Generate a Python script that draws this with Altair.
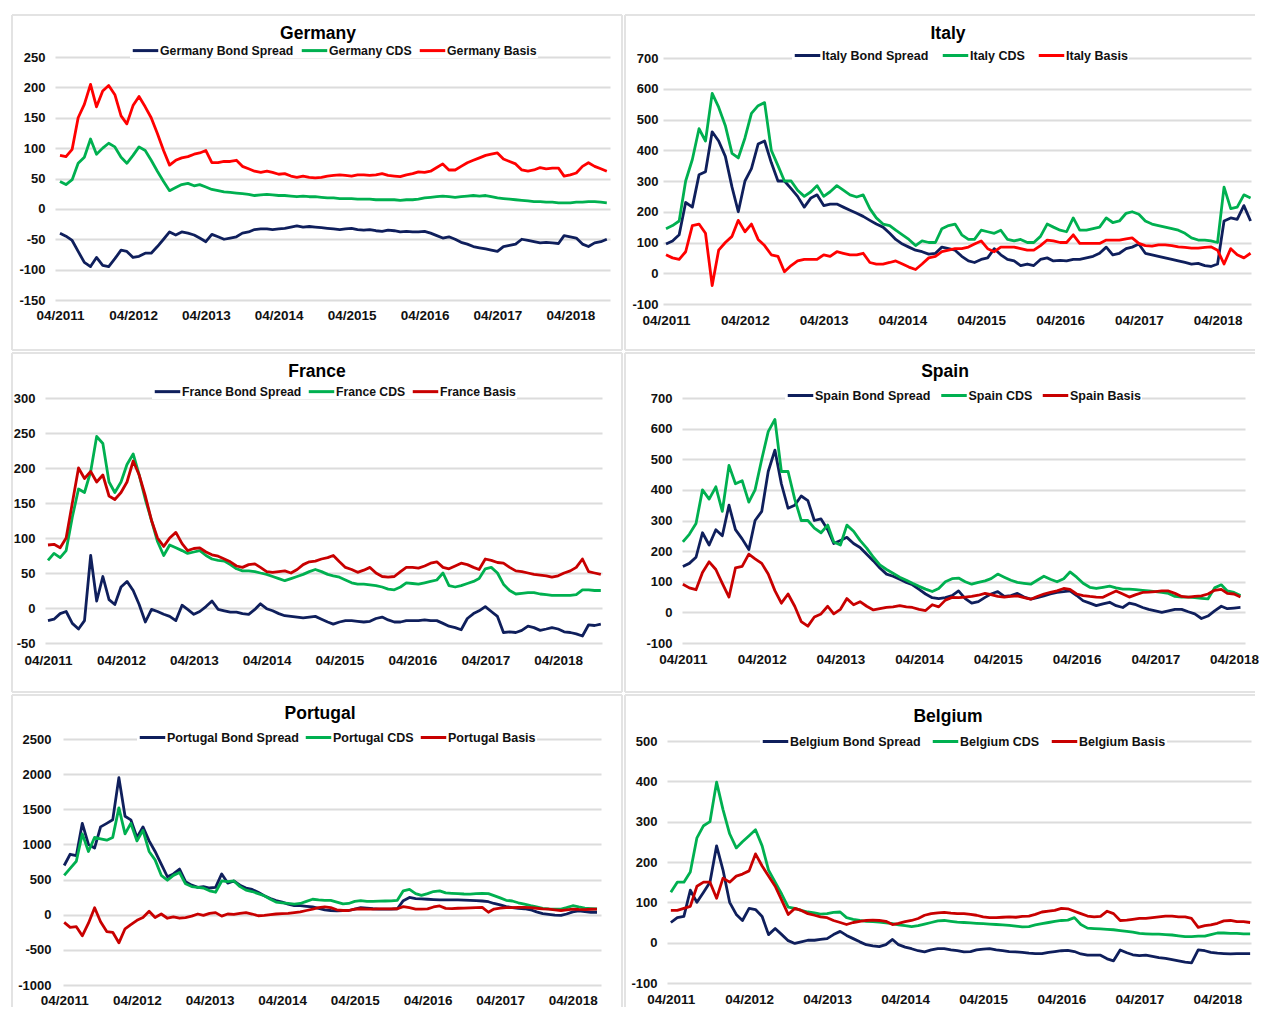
import altair as alt
import pandas as pd

NAVY = "#0f1f5c"
GREEN = "#00b050"
RED_BRIGHT = "#ff0000"
RED_DARK = "#c80000"
GRID = "#dcdcdc"
BORDER = "#e3e3e3"
FONT = "Liberation Sans"

# ---------------- data (monthly readings, first value = 04/2011) ----------------
ger_bond = [-40, -45, -52, -70, -88, -95, -80, -93, -95, -82,
            -68, -70, -80, -78, -73, -73, -62, -50, -38, -43,
            -38, -40, -43, -48, -54, -42, -46, -50, -48, -46,
            -40, -38, -34, -33, -33, -34, -33, -32, -30, -28,
            -30, -29, -30, -31, -32, -33, -34, -33, -32, -34,
            -35, -34, -36, -37, -35, -36, -38, -37, -38, -38,
            -37, -40, -44, -48, -46, -50, -55, -58, -62, -64,
            -66, -68, -70, -62, -60, -58, -50, -52, -54, -56,
            -55, -56, -57, -44, -46, -48, -58, -62, -56, -54, -50]
ger_cds = [45, 40, 48, 75, 85, 115, 90, 100, 108, 102,
           85, 75, 88, 102, 96, 80, 62, 45, 30, 35,
           40, 42, 38, 40, 36, 32, 30, 28, 27, 26,
           25, 24, 22, 23, 24, 23, 22, 22, 21, 20,
           21, 20, 20, 19, 18, 18, 17, 17, 17, 16,
           16, 16, 15, 15, 15, 15, 14, 15, 15, 16,
           18, 19, 20, 21, 20, 19, 20, 21, 22, 21,
           22, 20, 18, 17, 16, 15, 14, 13, 12, 12,
           11, 11, 10, 10, 10, 11, 11, 12, 12, 11, 10]
ger_basis = [88, 86, 98, 150, 172, 205, 168, 194, 203, 188,
             153, 140, 170, 185, 168, 150, 124, 96, 72, 80,
             84, 86, 90, 92, 96, 76, 76, 78, 78, 80,
             70, 66, 62, 60, 62, 60, 57, 58, 54, 52,
             54, 52, 51, 52, 54, 55, 56, 55, 54, 56,
             56, 55, 56, 58, 55, 54, 53, 56, 58, 61,
             60, 62, 68, 74, 64, 64, 70, 76, 80, 84,
             88, 90, 92, 82, 78, 74, 64, 62, 64, 68,
             66, 67, 67, 54, 56, 59, 70, 76, 70, 66, 62]

ita_bond = [95, 105, 125, 230, 215, 320, 330, 460, 430, 380,
            280, 200, 300, 340, 420, 430, 360, 300, 300, 275,
            250, 215, 245, 255, 220, 225, 225, 215, 205, 195,
            185, 172, 160, 150, 130, 110, 95, 85, 75, 70,
            62, 65, 85, 80, 75, 55, 40, 35, 45, 50,
            80, 60, 45, 40, 25, 30, 25, 45, 50, 40,
            42, 40, 45, 45, 50, 55, 65, 85, 60, 65,
            80, 85, 95, 65, 60, 55, 50, 45, 40, 35,
            30, 32, 25, 22, 30, 170, 180, 175, 220, 170]
ita_cds = [145, 155, 170, 300, 370, 470, 430, 585, 540, 480,
           390, 375, 440, 520, 545, 555, 400, 350, 300, 300,
           270, 250, 265, 285, 250, 265, 285, 270, 255, 248,
           255, 210, 180, 160, 155, 140, 125, 110, 90, 105,
           100, 100, 145, 155, 160, 125, 110, 110, 140, 135,
           130, 140, 110, 105, 110, 100, 100, 120, 160, 150,
           140, 135, 180, 140, 140, 145, 150, 180, 165, 170,
           195, 200, 192, 170, 160, 155, 150, 145, 140, 130,
           115, 108, 108, 105, 100, 280, 210, 215, 255, 245]
ita_basis = [60, 50, 45, 70, 155, 160, 130, -40, 75, 100,
             120, 172, 135, 160, 110, 90, 60, 55, 5, 25,
             40, 45, 45, 45, 60, 55, 70, 65, 60, 60,
             65, 35, 30, 30, 35, 40, 30, 20, 12, 30,
             50, 55, 70, 75, 80, 80, 85, 95, 105, 80,
             70, 85, 85, 85, 80, 75, 75, 90, 108, 105,
             100, 100, 125, 97, 97, 97, 97, 108, 108, 108,
             112, 115, 97, 90, 88, 92, 92, 90, 86, 84,
             82, 82, 84, 86, 75, 30, 80, 60, 50, 65]

fra_bond = [-18, -16, -8, -5, -22, -30, -18, 75, 10, 45,
            12, 5, 30, 38, 25, 5, -20, -2, -5, -9,
            -12, -18, 4, -2, -9, -5, 2, 10, -2, -4,
            -6, -6, -8, -9, -2, 6, -1, -4, -8, -11,
            -12, -13, -14, -13, -12, -16, -20, -23, -20, -18,
            -18, -19, -20, -19, -15, -13, -17, -20, -20, -18,
            -18, -18, -17, -18, -18, -22, -26, -28, -31, -15,
            -8, -4, 2, -5, -12, -35, -34, -35, -32, -26,
            -28, -32, -30, -28, -30, -34, -35, -37, -40, -24, -25, -23]
fra_cds = [68, 78, 72, 82, 130, 170, 165, 195, 245, 235,
           180, 165, 180, 205, 220, 190, 155, 125, 95, 75,
           90, 86, 82, 78, 80, 82, 75, 70, 68, 67,
           62, 56, 53, 53, 52, 50, 48, 45, 42, 39,
           42, 45, 48, 52, 55, 52, 48, 46, 44, 40,
           36, 34, 34, 33, 32, 30, 27, 26, 30, 36,
           35, 34, 36, 38, 40, 50, 32, 30, 32, 35,
           38, 42, 56, 58, 50, 34, 25, 20, 21, 22,
           22, 20, 19, 18, 18, 18, 18, 19, 26, 26, 25, 25]
fra_basis = [90, 91, 86, 100, 150, 200, 185, 195, 180, 190,
             160, 155, 165, 180, 210, 190, 160, 125, 100, 88,
             100, 108, 92, 82, 85, 86, 80, 76, 74, 70,
             66, 60, 58, 62, 63, 58, 52, 51, 52, 53,
             50, 55, 62, 66, 67, 70, 72, 75, 66, 58,
             55, 51, 54, 58, 50, 45, 44, 45, 52, 58,
             58, 57, 60, 64, 66, 58, 56, 60, 64, 62,
             58, 55, 70, 68, 65, 64, 58, 53, 52, 50,
             48, 47, 46, 44, 46, 50, 53, 58, 70, 52, 50, 48]

spa_bond = [150, 160, 180, 260, 220, 270, 250, 350, 270, 240,
            205, 300, 330, 460, 530, 420, 340, 350, 380, 365,
            300, 305, 270, 225, 235, 245, 225, 212, 190, 168,
            145, 125, 118, 108, 98, 90, 75, 60, 48, 45,
            48, 55, 70, 45, 30, 35, 49, 60, 68, 52,
            55, 62, 50, 43, 48, 54, 60, 65, 68, 70,
            55, 38, 30, 22, 28, 33, 22, 16, 30, 25,
            16, 10, 5, 0, 5, 10, 10, 2, -5, -20,
            -12, 5, 20, 12, 14, 16]
spa_cds = [230, 255, 290, 400, 370, 410, 330, 480, 420, 430,
           360, 400, 500, 590, 630, 460, 460, 370, 300, 300,
           275, 260, 285, 230, 220, 285, 265, 235, 210, 180,
           155, 140, 128, 115, 105, 95, 85, 76, 68, 78,
           100, 110, 112, 100, 92, 98, 103, 110, 125, 115,
           105, 98, 95, 92, 105, 118, 108, 100, 110, 132,
           115, 95, 82, 78, 82, 86, 80, 76, 76, 74,
           72, 70, 68, 65, 62, 52, 50, 50, 48, 46,
           44, 80, 90, 70, 65, 55]
spa_basis = [92, 80, 74, 130, 165, 140, 95, 50, 145, 150,
             190, 175, 160, 125, 71, 30, 60, 20, -30, -45,
             -15, -5, 20, -5, 10, 45, 25, 35, 20, 8,
             12, 16, 18, 22, 18, 16, 10, 6, 25, 18,
             40, 49, 48, 50, 52, 56, 62, 58, 52, 50,
             52, 54, 48, 43, 52, 60, 65, 70, 78, 75,
             60, 55, 52, 50, 49, 60, 70, 60, 50, 58,
             65, 66, 68, 70, 70, 62, 52, 50, 52, 54,
             60, 72, 75, 62, 60, 50]

por_bond = [700, 860, 840, 1300, 1000, 950, 1250, 1300, 1350, 1950,
            1400, 1350, 1100, 1250, 1050, 900, 720, 540, 580, 650,
            470, 420, 390, 400, 380, 390, 580, 450, 480, 420,
            380, 360, 320, 270, 230, 200, 180, 150, 130, 130,
            120, 110, 90, 70, 60, 55, 60, 60, 80, 100,
            95, 85, 80, 80, 80, 85, 200, 245, 230, 225,
            220, 215, 210, 210, 210, 210, 208, 205, 200, 195,
            185, 160, 140, 115, 100, 90, 85, 70, 40, 15,
            5, -5, -10, 10, 40, 55, 45, 35, 35]
por_cds = [560, 660, 760, 1150, 900, 1100, 1080, 1060, 1100, 1520,
           1150, 1300, 1050, 1200, 900, 780, 560, 490, 560, 600,
           440, 400, 390, 380, 340, 320, 480, 470, 480, 400,
           350, 330, 300, 270, 220, 180, 170, 160, 150, 160,
           190, 220, 210, 205, 205, 180, 155, 160, 190, 200,
           190, 190, 192, 195, 198, 205, 340, 360, 300, 275,
           300, 330, 340, 310, 305, 300, 295, 294, 300, 304,
           300, 272, 240, 205, 195, 170, 150, 128, 110, 90,
           82, 80, 80, 100, 128, 110, 95, 88, 82]
por_basis = [-110, -180, -170, -300, -120, 100, -100, -240, -250, -400,
             -200, -140, -80, -40, 50, -40, 10, -50, -30, -50,
             -40, -20, 10, -10, 20, 30, -20, 10, 5, 20,
             30, 10, -15, -10, 0, 10, 15, 20, 30, 40,
             60, 80, 100, 110, 100, 70, 60, 60, 80, 85,
             80, 80, 82, 82, 82, 85, 115, 100, 80, 80,
             82, 110, 125, 90, 88, 92, 95, 98, 100, 104,
             35, 80, 95, 100, 102, 104, 104, 100, 92, 84,
             80, 70, 60, 70, 80, 75, 72, 78, 80]

bel_bond = [50, 62, 65, 130, 100, 125, 150, 240, 180, 100,
            70, 55, 85, 82, 65, 20, 35, 20, 5, -2,
            2, 6, 6, 8, 10, 20, 28, 18, 10, 2,
            -5, -8, -10, -5, 8, -5, -11, -15, -20, -23,
            -18, -15, -15, -18, -20, -23, -22, -18, -16, -15,
            -18, -20, -22, -23, -24, -26, -27, -27, -24, -22,
            -20, -19, -22, -28, -31, -31, -31, -40, -45, -18,
            -25, -30, -32, -31, -34, -37, -39, -42, -45, -48,
            -50, -18, -20, -24, -26, -27, -28, -27, -27, -27]
bel_cds = [125, 150, 150, 175, 260, 290, 300, 398, 330, 270,
           235, 250, 265, 280, 240, 180, 150, 120, 88, 85,
           80, 76, 74, 71, 72, 75, 76, 62, 58, 55,
           53, 52, 51, 49, 47, 44, 42, 40, 42, 46,
           50, 54, 55, 53, 51, 50, 49, 48, 47, 46,
           45, 44, 43, 41, 39, 40, 44, 47, 50, 53,
           55, 56, 62, 45, 36, 35, 34, 33, 32, 30,
           28, 26, 23, 22, 21, 21, 20, 19, 17, 15,
           15, 16, 16, 20, 24, 24, 23, 23, 22, 22]
bel_basis = [80, 80, 85, 90, 140, 150, 150, 110, 160, 150,
             165, 170, 178, 220, 190, 165, 140, 105, 70, 85,
             80, 72, 68, 64, 62, 55, 50, 45, 50, 53,
             55, 56, 55, 53, 45, 48, 52, 55, 60, 68,
             72, 74, 75, 73, 72, 72, 70, 68, 64, 62,
             62, 63, 64, 63, 65, 66, 70, 76, 78, 80,
             85, 84, 78, 72, 66, 64, 65, 78, 72, 55,
             56, 58, 60, 60, 62, 64, 66, 66, 64, 64,
             60, 38, 42, 44, 48, 54, 55, 52, 52, 50]

TICK_YEARS = [2011, 2012, 2013, 2014, 2015, 2016, 2017, 2018]


def month_dates(n):
    out = []
    y, m = 2011, 4
    for _ in range(n):
        out.append(f"{y:04d}-{m:02d}-01T00:00:00")
        m += 1
        if m > 12:
            m = 1
            y += 1
    return out


def dt(y, m, d):
    return alt.DateTime(year=y, month=m, date=d)


ONE = pd.DataFrame({"k": [0]})


def hrule(x1, x2, y):
    return alt.Chart(ONE).mark_rule(color=BORDER, strokeWidth=2).encode(
        x=alt.value(x1), x2=alt.value(x2), y=alt.value(y))


def vrule(x, y1, y2):
    return alt.Chart(ONE).mark_rule(color=BORDER, strokeWidth=2).encode(
        x=alt.value(x), y=alt.value(y1), y2=alt.value(y2))


def panel(country, bond, cds, basis, red, ydom, ystep, W, H, plot, xdom,
          ypad, xpad, leg, title_off, title_dx, right=True, bottom=True):
    # plot = (left, right, top, bottom) of the data area inside the panel box
    pl, pr, pt, pb = plot
    names = [f"{country} Bond Spread", f"{country} CDS", f"{country} Basis"]
    frames = []
    for nm, vals in zip(names, [bond, cds, basis]):
        frames.append(pd.DataFrame({"date": month_dates(len(vals)),
                                    "value": vals, "series": nm}))
    df = pd.concat(frames, ignore_index=True)

    color = alt.Color(
        "series:N",
        scale=alt.Scale(domain=names, range=[NAVY, GREEN, red]),
        legend=alt.Legend(orient="none", legendX=leg[0], legendY=leg[1],
                          direction="horizontal", title=None,
                          symbolType="stroke", symbolSize=650,
                          symbolStrokeWidth=3, labelFont=FONT,
                          labelFontSize=leg[3], labelFontWeight="bold",
                          labelColor="#111111", columnPadding=leg[2],
                          labelOffset=0, fillColor="white", padding=1))
    x = alt.X("date:T", title=None,
              scale=alt.Scale(domain=[xdom[0], xdom[1]], range=[pl, pr], nice=False),
              axis=alt.Axis(values=[dt(yy, 4, 1) for yy in TICK_YEARS],
                            format="%m/%Y", grid=False, domain=False,
                            ticks=False, labelPadding=xpad, labelFlush=False,
                            labelOverlap=False, labelFontSize=13.5,
                            offset=-(H - pb)))
    y = alt.Y("value:Q", title=None,
              scale=alt.Scale(domain=ydom, range=[pb, pt], nice=False, zero=False),
              axis=alt.Axis(values=list(range(ydom[0], ydom[1] + 1, ystep)),
                            labelExpr="'' + datum.value",
                            grid=True, gridColor=GRID, gridWidth=2,
                            domain=False, ticks=False, labelPadding=ypad,
                            labelFontSize=13, offset=-pl))
    base = alt.Chart(df)
    lines = [base.transform_filter(alt.datum.series == nm)
             .mark_line(strokeWidth=2.8, strokeJoin="round")
             .encode(x=x, y=y, color=color) for nm in names]

    border = [hrule(0, W, 0), vrule(0, 0, H)]
    if right:
        border.append(vrule(W, 0, H))
    if bottom:
        border.append(hrule(0, W, H))

    return alt.layer(*border, *lines).properties(
        width=W, height=H,
        title=alt.TitleParams(text=country, font=FONT, fontSize=17.5,
                              fontWeight="bold", color="#000000",
                              anchor="middle", frame="group",
                              offset=title_off, dx=title_dx))


WL, WR = 610, 630
H1, H2, H3 = 335, 339, 312

ger = panel("Germany", ger_bond, ger_cds, ger_basis, RED_BRIGHT, [-150, 250], 50,
            WL, H1, (43, 598, 42, 285), [dt(2011, 3, 7), dt(2018, 10, 17)], 10, 8,
            (118, 20, 1, 12.3), -28, 1)
ita = panel("Italy", ita_bond, ita_cds, ita_basis, RED_BRIGHT, [-100, 700], 100,
            WR, H1, (38, 626, 43, 289), [dt(2011, 3, 18), dt(2018, 9, 3)], 5, 9,
            (167, 25, 7, 12.5), -28, 8, right=False)
fra = panel("France", fra_bond, fra_cds, fra_basis, RED_DARK, [-50, 300], 50,
            WL, H2, (33, 590, 45, 290), [dt(2011, 3, 17), dt(2018, 11, 7)], 10, 10,
            (140, 23, 0, 12.2), -28, 0)
spa = panel("Spain", spa_bond, spa_cds, spa_basis, RED_DARK, [-100, 700], 100,
            WR, H2, (57, 620, 45, 290), [dt(2011, 3, 28), dt(2018, 5, 22)], 10, 9,
            (160, 27, 3.5, 12.5), -28, 5, right=False)
por = panel("Portugal", por_bond, por_cds, por_basis, RED_DARK, [-1000, 2500], 500,
            WL, H3, (51, 589, 44, 290), [dt(2011, 3, 26), dt(2018, 8, 21)], 12, 8,
            (125, 27, 0, 12.5), -28, 3, bottom=False)
bel = panel("Belgium", bel_bond, bel_cds, bel_basis, RED_DARK, [-100, 500], 100,
            WR, H3, (42, 626, 46, 288), [dt(2011, 3, 14), dt(2018, 9, 5)], 10, 9,
            (135, 31, 5, 12.5), -31, 8, right=False, bottom=False)

chart = alt.concat(ger, ita, fra, spa, por, bel, columns=2,
                   spacing={"row": 3, "column": 3}, bounds="flush", align="each"
).resolve_scale(
    color="independent", x="independent", y="independent"
).configure(
    background="white", padding={"left": 2, "top": 5, "right": 0, "bottom": 0}
).configure_view(
    stroke="transparent"
).configure_axis(
    labelFont=FONT, labelFontWeight="bold", labelColor="#111111"
)

chart.save("out.html", embed_options={"renderer": "svg", "actions": False})
